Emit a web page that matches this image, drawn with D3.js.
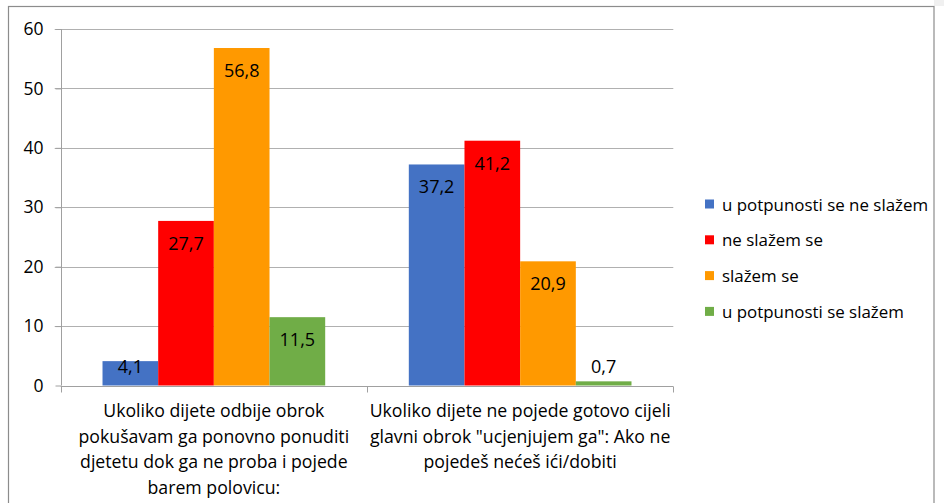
<!DOCTYPE html>
<html><head><meta charset="utf-8">
<script src="https://cdn.jsdelivr.net/npm/d3@7"></script>
<style>body{margin:0;background:#fff}svg{display:block;font-family:"Open Sans",sans-serif}</style>
</head><body>
<svg id="c" width="944" height="503"></svg>
<script>
const categories = [
  ["Ukoliko dijete odbije obrok","pokušavam ga ponovno ponuditi","djetetu dok ga ne proba i pojede","barem polovicu:"],
  ["Ukoliko dijete ne pojede gotovo cijeli","glavni obrok \"ucjenjujem ga\": Ako ne","pojedeš nećeš ići/dobiti"]
];
const seriesNames = ["u potpunosti se ne slažem","ne slažem se","slažem se","u potpunosti se slažem"];
const seriesColors = ["#4472C4","#FF0000","#FF9900","#70AD47"];
const values = [
  [4.1, 27.7, 56.8, 11.5],
  [37.2, 41.2, 20.9, 0.7]
];
const yTicks = [0,10,20,30,40,50,60];

const svg = d3.select("#c");
// outer frame
svg.append("rect").attr("x",934).attr("y",0).attr("width",10).attr("height",6).attr("fill","#f0f0f0");
svg.append("rect").attr("x",8.5).attr("y",6.5).attr("width",925.5).attr("height",520)
  .attr("fill","none").attr("stroke","#8c8c8c").attr("stroke-width",1.2);

const L=60.7, R=673.3, T=29, B=385.5;
const x0 = d3.scaleBand().domain(d3.range(categories.length)).range([L,R]).padding(0);
const gapHalf = x0.bandwidth()*0.1365;
const x1 = d3.scaleBand().domain(d3.range(seriesNames.length)).range([gapHalf, x0.bandwidth()-gapHalf]).padding(0);
const y = d3.scaleLinear().domain([0,60]).range([B,T]);

// gridlines
svg.append("g").selectAll("line").data(yTicks.filter(d=>d>0)).join("line")
  .attr("x1",L-6).attr("x2",R).attr("y1",d=>Math.round(y(d))+0.5).attr("y2",d=>Math.round(y(d))+0.5)
  .attr("stroke","#b0b0b0").attr("stroke-width",1);

// y axis
const yAxis = d3.axisLeft(y).tickValues(yTicks).tickSize(6).tickPadding(12).tickFormat(d3.format("d"));
const gy = svg.append("g").attr("transform",`translate(${Math.round(L)+0.5},0)`).call(yAxis);
gy.select(".domain").attr("stroke","#a0a0a0").attr("d",`M0,${T}V${B}`);
gy.selectAll(".tick line").attr("stroke","#a0a0a0");
gy.selectAll(".tick text").attr("font-size",17.5).attr("fill","#000").attr("font-family","Open Sans");

// bars
const groups = svg.append("g").selectAll("g").data(values).join("g")
  .attr("transform",(d,i)=>`translate(${x0(i)},0)`);
groups.selectAll("rect").data(d=>d).join("rect")
  .attr("x",(d,j)=>x1(j)).attr("width",x1.bandwidth())
  .attr("y",d=>y(d)).attr("height",d=>B-y(d))
  .attr("fill",(d,j)=>seriesColors[j]);
groups.selectAll("text").data(d=>d).join("text")
  .attr("x",(d,j)=>x1(j)+x1.bandwidth()/2)
  .attr("y",d=>Math.min(y(d)+22, B-19.5))
  .attr("text-anchor","middle").attr("dominant-baseline","central")
  .attr("font-size",18).attr("fill","#000")
  .text(d=>d3.format(".1f")(d).replace(".",","));

// x axis
const gx = svg.append("g").attr("transform",`translate(0,${Math.round(B)+0.5})`);
gx.append("line").attr("x1",L).attr("x2",R).attr("stroke","#a0a0a0");
gx.selectAll("line.t").data([L, ...categories.map((c,i)=>x0(i)+x0.bandwidth())]).join("line").attr("class","t")
  .attr("x1",d=>Math.round(d)+0.5).attr("x2",d=>Math.round(d)+0.5).attr("y1",0).attr("y2",6).attr("stroke","#a0a0a0");
categories.forEach((lines,i)=>{
  const t = svg.append("text").attr("text-anchor","middle").attr("font-size",17.7).attr("fill","#000");
  lines.forEach((ln,k)=>{
    t.append("tspan").attr("x",x0(i)+x0.bandwidth()/2).attr("y",417+k*25.5).text(ln);
  });
});

// legend
const lg = svg.append("g").selectAll("g").data(seriesNames).join("g")
  .attr("transform",(d,i)=>`translate(705,${204+i*35.8})`);
lg.append("rect").attr("x",0).attr("y",-4.5).attr("width",9).attr("height",9).attr("fill",(d,i)=>seriesColors[i]);
lg.append("text").attr("x",17).attr("y",0).attr("dominant-baseline","central").attr("font-size",16.9).attr("fill","#000").text(d=>d);
</script>
</body></html>
